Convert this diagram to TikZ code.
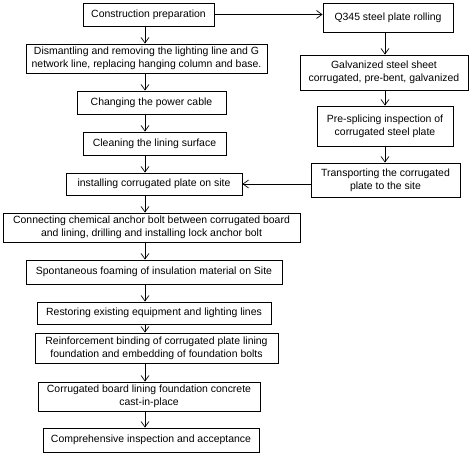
\documentclass[tikz,border=0pt]{standalone}
\usepackage{fontspec}
\setmainfont{Liberation Sans}
\usetikzlibrary{arrows.meta}

\begin{document}
\begin{tikzpicture}[
          x=1bp, y=-1bp,
          stage/.style={draw=black, line width=0.9bp, inner sep=0pt, align=center,
            font=\fontsize{10.5}{12.7}\selectfont},
          flow/.style={line width=0.7bp, -{Straight Barb[length=5.5bp, width=8bp]}}
        ]
          \useasboundingbox (0, 0) rectangle (474, 462);

          % left column
          \node (prep)    at (148.5, 14.5) [stage, minimum width=131bp, minimum height=23bp] {Construction preparation};
          \node (dismant) at (146.5, 58.5) [stage, minimum width=241bp, minimum height=29bp] {%
            Dismantling and removing the lighting line and G\\
            network line, replacing hanging column and base.};
          \node (cable)   at (151.5, 102.5) [stage, minimum width=149bp, minimum height=23bp] {Changing the power cable};
          \node (clean)   at (154.5, 143.5) [stage, minimum width=143bp, minimum height=23bp] {Cleaning the lining surface};
          \node (install) at (154, 184)     [stage, minimum width=176bp, minimum height=22bp] {installing corrugated plate on site};
          \node (anchor)  at (151.5, 227.5) [stage, minimum width=297bp, minimum height=29bp] {%
            Connecting chemical anchor bolt between corrugated board\\
            and lining, drilling and installing lock anchor bolt};
          \node (foam)    at (154, 272)     [stage, minimum width=256bp, minimum height=24bp] {Spontaneous foaming of insulation material on Site};
          \node (restore) at (154, 313)     [stage, minimum width=234bp, minimum height=22bp] {Restoring existing equipment and lighting lines};
          \node (rebar)   at (156.5, 348)   [stage, minimum width=243bp, minimum height=30bp] {%
            Reinforcement binding of corrugated plate lining\\
            foundation and embedding of foundation bolts};
          \node (concrete) at (149, 396.5)  [stage, minimum width=222bp, minimum height=29bp] {%
            Corrugated board lining foundation concrete\\
            cast-in-place};
          \node (accept)  at (151, 440)     [stage, minimum width=216bp, minimum height=24bp] {Comprehensive inspection and acceptance};

          % right column
          \node (rolling) at (388, 17.5)  [stage, minimum width=130bp, minimum height=29bp] {Q345 steel plate rolling};
          \node (galv)    at (384, 72.5)  [stage, minimum width=168bp, minimum height=35bp] {%
            Galvanized steel sheet\\
            corrugated, pre-bent, galvanized};
          \node (splice)  at (385, 126)   [stage, minimum width=136bp, minimum height=40bp] {%
            Pre-splicing inspection of\\
            corrugated steel plate};
          \node (transp)  at (385.5, 180) [stage, minimum width=149bp, minimum height=34bp] {%
            Transporting the corrugated\\
            plate to the site};

          \coordinate (spine) at (145, 0);
          \coordinate (rspine) at (385, 0);

          \draw [flow] (prep.south -| spine)     -- (dismant.north -| spine);
          \draw [flow] (dismant.south -| spine)  -- (cable.north -| spine);
          \draw [flow] (cable.south -| spine)    -- (clean.north -| spine);
          \draw [flow] (clean.south -| spine)    -- (install.north -| spine);
          \draw [flow] (install.south -| spine)  -- (anchor.north -| spine);
          \draw [flow] (anchor.south -| spine)   -- (foam.north -| spine);
          \draw [flow] (foam.south -| spine)     -- (restore.north -| spine);
          \draw [flow] (restore.south -| spine)  -- (rebar.north -| spine);
          \draw [flow] (rebar.south -| spine)    -- (concrete.north -| spine);
          \draw [flow] (concrete.south -| spine) -- (accept.north -| spine);

          \draw [flow] (prep.east) -- (prep -| rolling.west);
          \draw [flow] (rolling.south -| rspine) -- (galv.north -| rspine);
          \draw [flow] (galv.south -| rspine)    -- (splice.north -| rspine);
          \draw [flow] (splice.south -| rspine)  -- (transp.north -| rspine);
          \draw [flow] (install -| transp.west)  -- (install.east);
        \end{tikzpicture}
\end{document}
